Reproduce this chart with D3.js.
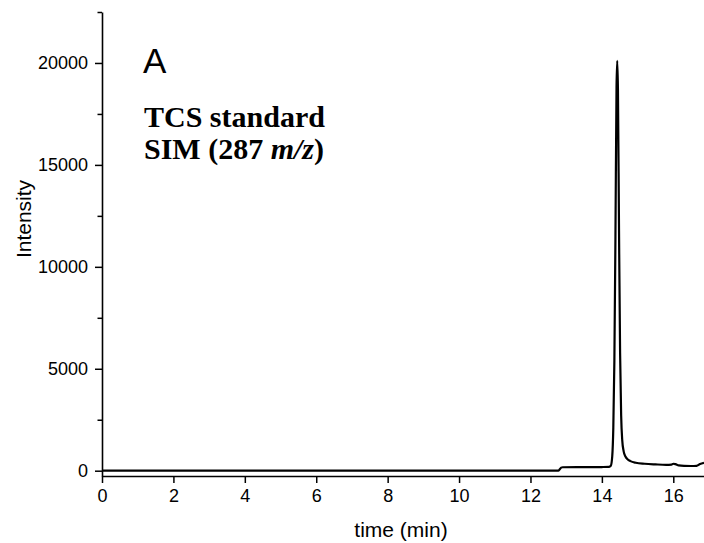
<!DOCTYPE html>
<html><head><meta charset="utf-8">
<script src="https://cdn.jsdelivr.net/npm/d3@7"></script>
<style>body{margin:0;background:#fff}svg{display:block}</style>
</head><body>
<svg id="c" width="704" height="543"></svg>
<script>
// data: retention time (min) and intensity
const time = [0, 2, 4, 6, 8, 10, 12, 12.78, 12.82, 12.86, 12.9, 13.3, 13.7, 14.0, 14.2, 14.25, 14.29, 14.32, 14.35, 14.38, 14.41, 14.43, 14.45, 14.48, 14.51, 14.54, 14.57, 14.61, 14.66, 14.72, 14.8, 14.95, 15.2, 15.5, 15.8, 15.95, 16.0, 16.06, 16.15, 16.3, 16.5, 16.65, 16.75, 16.86];
const intensity = [0, 0, 0, 0, 0, 0, 0, 0, 70, 150, 170, 172, 175, 180, 190, 240, 700, 2100, 5400, 11500, 18800, 20100, 18700, 11800, 5800, 2700, 1500, 950, 700, 560, 470, 390, 340, 310, 290, 300, 340, 320, 260, 235, 230, 240, 330, 390];
const xTicks = [0, 2, 4, 6, 8, 10, 12, 14, 16];
const yTicks = [0, 5000, 10000, 15000, 20000];
const yMinorTicks = [2500, 7500, 12500, 17500, 22500];
const xTitle = "time (min)";
const yTitle = "Intensity";
const panelLabel = "A";

const svg = d3.select("#c");
const x = d3.scaleLinear().domain([0, 16.86]).range([102, 704]);
const y = d3.scaleLinear().domain([-260, 22500]).range([476, 12]);

const font = "Arial, 'Liberation Sans', sans-serif";

// line
const pts = time.map((t, i) => [t, intensity[i]]);
svg.append("path")
  .datum(pts)
  .attr("fill", "none")
  .attr("stroke", "#000")
  .attr("stroke-width", 2.2)
  .attr("stroke-linejoin", "round")
  .attr("d", d3.line().x(d => x(d[0])).y(d => y(d[1])).curve(d3.curveMonotoneX));

// x axis
const xa = svg.append("g").attr("transform", "translate(0,476)")
  .call(d3.axisBottom(x).tickValues(xTicks).tickSize(7).tickSizeOuter(0).tickPadding(6).tickFormat(d3.format("d")));
xa.select(".domain").attr("stroke-width", 1.6);
xa.selectAll(".tick line").attr("stroke-width", 1.5);
xa.selectAll("text").attr("font-family", font).attr("font-size", 18).attr("fill", "#000");

// y axis
const ya = svg.append("g").attr("transform", "translate(102,0)")
  .call(d3.axisLeft(y).tickValues(yTicks).tickSize(7).tickSizeOuter(0).tickPadding(7).tickFormat(d3.format("d")));
ya.select(".domain").attr("stroke-width", 1.6);
ya.selectAll(".tick line").attr("stroke-width", 1.5);
ya.selectAll("text").attr("font-family", font).attr("font-size", 18).attr("fill", "#000");
svg.append("g").attr("transform", "translate(102,0)")
  .call(d3.axisLeft(y).tickValues(yMinorTicks).tickSize(4.5).tickFormat(""))
  .call(g => g.select(".domain").remove())
  .selectAll(".tick line").attr("stroke-width", 1.5);

// titles
svg.append("text").attr("x", 401).attr("y", 537)
  .attr("text-anchor", "middle").attr("font-family", font).attr("font-size", 21).text(xTitle);
svg.append("text").attr("transform", "translate(31,219) rotate(-90)")
  .attr("text-anchor", "middle").attr("font-family", font).attr("font-size", 21).text(yTitle);

svg.append("text").attr("x", 143).attr("y", 73).attr("font-family", font).attr("font-size", 35).text(panelLabel);

const serif = "'Times New Roman', 'Liberation Serif', serif";
svg.append("text").attr("x", 144).attr("y", 127).attr("font-family", serif).attr("font-weight", "bold").attr("font-size", 30).text("TCS standard");
const t2 = svg.append("text").attr("x", 144).attr("y", 159).attr("font-family", serif).attr("font-weight", "bold").attr("font-size", 30);
t2.append("tspan").text("SIM (287 ");
t2.append("tspan").attr("font-style", "italic").text("m/z");
t2.append("tspan").text(")");
</script>
</body></html>
